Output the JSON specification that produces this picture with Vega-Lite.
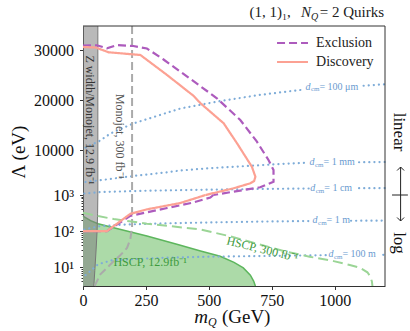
{
"$schema": "https://vega.github.io/schema/vega-lite/v6.json",
"width": 302, "height": 260,
"autosize": {"type": "none"},
"padding": {"left": 83, "top": 26, "right": 25, "bottom": 45},
"background": "white",
"config": {"font": "Liberation Serif", "view": {"stroke": null},
  "axis": {"zindex": 1, "grid": false, "domainColor": "#333", "tickColor": "#333", "labelColor": "#111", "labelFont": "Liberation Serif", "labelFontSize": 16, "titleOpacity": 0},
  "mark": {"font": "Liberation Serif"},
  "text": {"font": "Liberation Serif"}},
"datasets": {
 "curves": [
  {"series":"Exclusion","i":0,"x":0,"y":30860},{"series":"Exclusion","i":1,"x":55,"y":30950},{"series":"Exclusion","i":2,"x":95,"y":30340},{"series":"Exclusion","i":3,"x":135,"y":31000},{"series":"Exclusion","i":4,"x":200,"y":30800},{"series":"Exclusion","i":5,"x":254,"y":30300},{"series":"Exclusion","i":6,"x":320,"y":28100},{"series":"Exclusion","i":7,"x":387,"y":25660},{"series":"Exclusion","i":8,"x":460,"y":23000},{"series":"Exclusion","i":9,"x":532,"y":20340},{"series":"Exclusion","i":10,"x":625,"y":16000},{"series":"Exclusion","i":11,"x":691,"y":11660},{"series":"Exclusion","i":12,"x":737,"y":8000},{"series":"Exclusion","i":13,"x":757,"y":6000},{"series":"Exclusion","i":14,"x":757,"y":3660},{"series":"Exclusion","i":15,"x":704,"y":2540},{"series":"Exclusion","i":16,"x":598,"y":1660},{"series":"Exclusion","i":17,"x":518,"y":1000},{"series":"Exclusion","i":18,"x":506,"y":850},{"series":"Exclusion","i":19,"x":430,"y":600},{"series":"Exclusion","i":20,"x":330,"y":430},{"series":"Exclusion","i":21,"x":254,"y":330},{"series":"Exclusion","i":22,"x":188,"y":265},{"series":"Exclusion","i":23,"x":95,"y":100},{"series":"Exclusion","i":24,"x":0,"y":100},
  {"series":"Discovery","i":0,"x":0,"y":30600},{"series":"Discovery","i":1,"x":50,"y":30500},{"series":"Discovery","i":2,"x":102,"y":29540},{"series":"Discovery","i":3,"x":228,"y":29000},{"series":"Discovery","i":4,"x":334,"y":25000},{"series":"Discovery","i":5,"x":440,"y":20800},{"series":"Discovery","i":6,"x":467,"y":19340},{"series":"Discovery","i":7,"x":559,"y":15340},{"series":"Discovery","i":8,"x":612,"y":11340},{"series":"Discovery","i":9,"x":671,"y":6660},{"series":"Discovery","i":10,"x":685,"y":4660},{"series":"Discovery","i":11,"x":680,"y":3800},{"series":"Discovery","i":12,"x":665,"y":3340},{"series":"Discovery","i":13,"x":598,"y":2340},{"series":"Discovery","i":14,"x":487,"y":1000},{"series":"Discovery","i":15,"x":387,"y":600},{"series":"Discovery","i":16,"x":254,"y":400},{"series":"Discovery","i":17,"x":188,"y":300},{"series":"Discovery","i":18,"x":95,"y":100},{"series":"Discovery","i":19,"x":0,"y":100}
 ],
 "monojet": [
  {"i":0,"x":195,"y":34800},{"i":1,"x":195,"y":1000},{"i":2,"x":195,"y":123},{"i":3,"x":188,"y":60},{"i":4,"x":175,"y":34},{"i":5,"x":150,"y":22},{"i":6,"x":122,"y":14.7},{"i":7,"x":95,"y":9.5},{"i":8,"x":69,"y":6.3},{"i":9,"x":49,"y":3.3},{"i":10,"x":47,"y":3}
 ],
 "zband": [
  {"x":59,"y":34800},{"x":59,"y":1000},{"x":58,"y":300},{"x":56,"y":100},{"x":52,"y":30},{"x":47,"y":8},{"x":43,"y":3}
 ],
 "hscp12": [
  {"x":0,"y":260},{"x":30,"y":195},{"x":60,"y":160},{"x":122,"y":123},{"x":254,"y":73},{"x":380,"y":42},{"x":467,"y":28},{"x":545,"y":20},{"x":600,"y":13.5},{"x":637,"y":9.5},{"x":665,"y":6},{"x":678,"y":4.1},{"x":685,"y":3}
 ],
 "hscp300": [
  {"i":0,"x":0,"y":320},{"i":1,"x":60,"y":260},{"i":2,"x":122,"y":215},{"i":3,"x":254,"y":160},{"i":4,"x":400,"y":125},{"i":5,"x":467,"y":111},{"i":6,"x":598,"y":68},{"i":7,"x":700,"y":43},{"i":8,"x":797,"y":28},{"i":9,"x":900,"y":19.5},{"i":10,"x":996,"y":14.7},{"i":11,"x":1060,"y":11.5},{"i":12,"x":1102,"y":9.5},{"i":13,"x":1130,"y":7.2},{"i":14,"x":1141,"y":5.6},{"i":15,"x":1148,"y":4},{"i":16,"x":1150,"y":3}
 ],
 "dcm": [
  {"seg":"100um_a","i":0,"x":10,"y":10500},{"seg":"100um_a","i":1,"x":65,"y":11800},{"seg":"100um_a","i":2,"x":109,"y":13300},{"seg":"100um_a","i":3,"x":200,"y":15300},{"seg":"100um_a","i":4,"x":387,"y":18300},{"seg":"100um_a","i":5,"x":546,"y":19800},{"seg":"100um_a","i":6,"x":700,"y":21000},{"seg":"100um_a","i":7,"x":880,"y":22100},
  {"seg":"100um_b","i":0,"x":1115,"y":22850},{"seg":"100um_b","i":1,"x":1200,"y":23150},
  {"seg":"1mm_a","i":0,"x":10,"y":3600},{"seg":"1mm_a","i":1,"x":75,"y":4000},{"seg":"1mm_a","i":2,"x":200,"y":4800},{"seg":"1mm_a","i":3,"x":320,"y":5460},{"seg":"1mm_a","i":4,"x":387,"y":5900},{"seg":"1mm_a","i":5,"x":500,"y":6350},{"seg":"1mm_a","i":6,"x":652,"y":6800},{"seg":"1mm_a","i":7,"x":800,"y":7250},{"seg":"1mm_a","i":8,"x":893,"y":7450},
  {"seg":"1mm_b","i":0,"x":1097,"y":7550},{"seg":"1mm_b","i":1,"x":1200,"y":7600},
  {"seg":"1cm_a","i":0,"x":5,"y":1300},{"seg":"1cm_a","i":1,"x":75,"y":1600},{"seg":"1cm_a","i":2,"x":250,"y":1850},{"seg":"1cm_a","i":3,"x":480,"y":2050},{"seg":"1cm_a","i":4,"x":700,"y":2200},{"seg":"1cm_a","i":5,"x":898,"y":2300},
  {"seg":"1cm_b","i":0,"x":1097,"y":2360},{"seg":"1cm_b","i":1,"x":1200,"y":2380},
  {"seg":"1m_a","i":0,"x":5,"y":110},{"seg":"1m_a","i":1,"x":60,"y":135},{"seg":"1m_a","i":2,"x":150,"y":150},{"seg":"1m_a","i":3,"x":300,"y":162},{"seg":"1m_a","i":4,"x":480,"y":172},{"seg":"1m_a","i":5,"x":700,"y":183},{"seg":"1m_a","i":6,"x":905,"y":190},
  {"seg":"1m_b","i":0,"x":1065,"y":193},{"seg":"1m_b","i":1,"x":1200,"y":195},
  {"seg":"100m_a","i":0,"x":10,"y":6},{"seg":"100m_a","i":1,"x":60,"y":12},{"seg":"100m_a","i":2,"x":115,"y":15.5},{"seg":"100m_a","i":3,"x":300,"y":18},{"seg":"100m_a","i":4,"x":506,"y":19.5},{"seg":"100m_a","i":5,"x":750,"y":20.5},{"seg":"100m_a","i":6,"x":970,"y":21.5},
  {"seg":"100m_b","i":0,"x":1193,"y":22},{"seg":"100m_b","i":1,"x":1200,"y":22}
 ],
 "dlabels": [
  {"x":884,"y":22650,"val":"= 100 μm"},{"x":900,"y":7550,"val":"= 1 mm"},{"x":903,"y":2370,"val":"= 1 cm"},{"x":912,"y":200,"val":"= 1 m"},{"x":975,"y":23,"val":"= 100 m"}
 ]
},
"encoding": {"x": {"field": "x", "type": "quantitative", "scale": {"domain": [0, 1200], "nice": false, "zero": false},
  "axis": {"orient": "bottom", "values": [0, 250, 500, 750, 1000], "format": "d", "tickSize": 3.5, "labelPadding": 3, "title": null, "labelFlush": false}}},
"layer": [
 {
  "encoding": {"y": {"field": "y", "type": "quantitative", "scale": {"domain": [1000, 34800], "range": [169, 0], "nice": false, "zero": false},
    "axis": {"orient": "left", "values": [10000, 20000, 30000], "format": "d", "tickSize": 3.5, "labelPadding": 6, "title": null, "labelFlush": false}}},
  "layer": [
   {"data": {"name": "zband"}, "transform": [{"filter": "datum.y >= 1000"}], "mark": {"type": "area", "orient": "horizontal", "color": "#808080", "opacity": 0.55}, "encoding": {"x2": {"datum": 0}}},
   {"data": {"name": "zband"}, "transform": [{"filter": "datum.y >= 1000"}], "mark": {"type": "line", "color": "#777777", "strokeWidth": 1}, "encoding": {"order": {"field": "y", "type": "quantitative"}}},
   {"data": {"name": "dcm"}, "transform": [{"filter": "datum.y >= 1000"}], "mark": {"type": "line", "color": "#7eacd8", "strokeWidth": 2.2, "strokeDash": [0.1, 5], "strokeCap": "round"}, "encoding": {"detail": {"field": "seg"}, "order": {"field": "i", "type": "quantitative"}}},
   {"data": {"name": "monojet"}, "transform": [{"filter": "datum.y >= 1000"}], "mark": {"type": "line", "color": "#aaaaaa", "strokeWidth": 2, "strokeDash": [8, 4]}, "encoding": {"order": {"field": "i", "type": "quantitative"}}},
   {"data": {"name": "curves"}, "transform": [{"filter": "datum.y >= 1000"}], "mark": {"type": "line", "strokeWidth": 2.2},
    "encoding": {"color": {"field": "series", "type": "nominal", "scale": {"domain": ["Exclusion", "Discovery"], "range": ["#ad5bbd", "#fca193"]}, "legend": null},
     "strokeDash": {"field": "series", "type": "nominal", "scale": {"domain": ["Exclusion", "Discovery"], "range": [[8, 4], [1, 0]]}, "legend": null},
     "order": {"field": "i", "type": "quantitative"}}},
   {"data": {"name": "dlabels"}, "transform": [{"filter": "datum.y >= 1000"}], "mark": {"type": "text", "font": "Liberation Serif", "fontStyle": "italic", "fontSize": 10, "align": "left", "baseline": "middle", "color": "#6a9bd0"}, "encoding": {"text": {"value": "d"}}},
   {"data": {"name": "dlabels"}, "transform": [{"filter": "datum.y >= 1000"}], "mark": {"type": "text", "font": "Liberation Serif", "fontSize": 7, "align": "left", "baseline": "middle", "dx": 5.5, "dy": 2.5, "color": "#6a9bd0"}, "encoding": {"text": {"value": "cm"}}},
   {"data": {"name": "dlabels"}, "transform": [{"filter": "datum.y >= 1000"}], "mark": {"type": "text", "font": "Liberation Serif", "fontSize": 10, "align": "left", "baseline": "middle", "dx": 14, "color": "#6a9bd0"}, "encoding": {"text": {"field": "val"}}},
   {"data": {"values": [{"series": "Exclusion", "x": 771, "x2": 894, "y": 31400}, {"series": "Discovery", "x": 771, "x2": 894, "y": 27600}]}, "mark": {"type": "rule", "strokeWidth": 2.2},
    "encoding": {"x2": {"field": "x2"}, "color": {"field": "series", "type": "nominal", "legend": null}, "strokeDash": {"field": "series", "type": "nominal", "legend": null}}},
   {"data": {"values": [{"x": 926, "y": 31400, "text": "Exclusion"}, {"x": 926, "y": 27600, "text": "Discovery"}]}, "mark": {"type": "text", "font": "Liberation Serif", "fontSize": 14, "align": "left", "baseline": "middle", "color": "#222"}, "encoding": {"text": {"field": "text"}}},
   {"data": {"values": [{"x": 0, "x2": 1200, "y": 34800}]}, "mark": {"type": "rule", "color": "#333", "strokeWidth": 1}, "encoding": {"x2": {"field": "x2"}}},
   {"data": {"values": [{"x": 1200, "y": 1000, "y2": 34800}]}, "mark": {"type": "rule", "color": "#333", "strokeWidth": 1}, "encoding": {"y2": {"field": "y2"}}},
   {"data": {"values": [{"x": 826, "y": 36600, "text": "(1, 1)₁,"}, {"x": 1196, "y": 36600, "text": "= 2 Quirks"}]}, "mark": {"type": "text", "font": "Liberation Serif", "fontSize": 15, "align": "right", "baseline": "alphabetic", "color": "#222"}, "encoding": {"text": {"field": "text"}}},
   {"data": {"values": [{"x": 906, "y": 36600, "text": "N"}]}, "mark": {"type": "text", "font": "Liberation Serif", "fontSize": 15, "fontStyle": "italic", "align": "right", "baseline": "alphabetic", "color": "#222"}, "encoding": {"text": {"field": "text"}}},
   {"data": {"values": [{"x": 906, "y": 36600, "text": "Q"}]}, "mark": {"type": "text", "font": "Liberation Serif", "fontSize": 10, "fontStyle": "italic", "align": "left", "baseline": "alphabetic", "dy": 3, "color": "#222"}, "encoding": {"text": {"field": "text"}}},
   {"data": {"values": [{"x": 28, "y": 16000, "text": "Z width/Monojet, 12.9 fb⁻¹"}]}, "mark": {"type": "text", "font": "Liberation Serif", "fontSize": 12, "angle": 90, "align": "center", "baseline": "middle", "color": "#333"}, "encoding": {"text": {"field": "text"}}},
   {"data": {"values": [{"x": 147, "y": 12700, "text": "Monojet, 300 fb⁻¹"}]}, "mark": {"type": "text", "font": "Liberation Serif", "fontSize": 12, "angle": 90, "align": "center", "baseline": "middle", "color": "#555"}, "encoding": {"text": {"field": "text"}}},
   {"data": {"values": [{"x": -254, "y": 9600, "text": "Λ (eV)"}]}, "mark": {"type": "text", "font": "Liberation Serif", "fontSize": 19, "angle": 270, "align": "center", "baseline": "middle", "color": "#111"}, "encoding": {"text": {"field": "text"}}},
   {"data": {"values": [{"x": 1256, "y": 13600, "text": "linear"}]}, "mark": {"type": "text", "font": "Liberation Serif", "fontSize": 17, "angle": 90, "align": "center", "baseline": "middle", "color": "#111"}, "encoding": {"text": {"field": "text"}}},
   {"data": {"values": [{"x": 1262, "y": 1000, "y2": 6600}]}, "mark": {"type": "rule", "color": "#222", "strokeWidth": 1}, "encoding": {"y2": {"field": "y2"}}},
   {"data": {"values": [{"x": 1228, "x2": 1291, "y": 1000}]}, "mark": {"type": "rule", "color": "#222", "strokeWidth": 1}, "encoding": {"x2": {"field": "x2"}}},
   {"data": {"values": [{"x": 1262, "y": 6600}]}, "mark": {"type": "point", "shape": "M-1,1L0,0L1,1", "size": 49, "filled": false, "color": "#222", "strokeWidth": 1, "opacity": 1}}
  ]
 },
 {
  "encoding": {"y": {"field": "y", "type": "quantitative", "scale": {"type": "log", "domain": [3, 1000], "range": [260, 169], "nice": false},
    "axis": {"orient": "left", "values": [10, 100, 1000], "labelExpr": "datum.value == 10 ? '10¹' : datum.value == 100 ? '10²' : '10³'", "tickSize": 3.5, "labelPadding": 6, "title": null, "labelFlush": false}}},
  "layer": [
   {"layer": [
    {"data": {"name": "hscp12"}, "mark": {"type": "area", "color": "#acdaa8"}, "encoding": {"y2": {"datum": 3}}},
    {"data": {"name": "hscp12"}, "mark": {"type": "line", "color": "#5db65d", "strokeWidth": 1.5}},
    {"data": {"name": "zband"}, "transform": [{"filter": "datum.y <= 1000"}], "mark": {"type": "area", "orient": "horizontal", "color": "#808080", "opacity": 0.55}, "encoding": {"x2": {"datum": 0}}},
    {"data": {"name": "zband"}, "transform": [{"filter": "datum.y <= 1000"}], "mark": {"type": "line", "color": "#777777", "strokeWidth": 1}, "encoding": {"order": {"field": "y", "type": "quantitative"}}},
    {"data": {"name": "dcm"}, "transform": [{"filter": "datum.y <= 1000"}], "mark": {"type": "line", "color": "#7eacd8", "strokeWidth": 2.2, "strokeDash": [0.1, 5], "strokeCap": "round"}, "encoding": {"detail": {"field": "seg"}, "order": {"field": "i", "type": "quantitative"}}},
    {"data": {"name": "monojet"}, "transform": [{"filter": "datum.y <= 1000"}], "mark": {"type": "line", "color": "#aaaaaa", "strokeWidth": 2, "strokeDash": [8, 4]}, "encoding": {"order": {"field": "i", "type": "quantitative"}}},
    {"data": {"name": "hscp300"}, "mark": {"type": "line", "color": "#9bd596", "strokeWidth": 2, "strokeDash": [10, 5]}, "encoding": {"order": {"field": "i", "type": "quantitative"}}},
    {"data": {"name": "curves"}, "transform": [{"filter": "datum.y <= 1000"}], "mark": {"type": "line", "strokeWidth": 2.2},
     "encoding": {"color": {"field": "series", "type": "nominal", "legend": null}, "strokeDash": {"field": "series", "type": "nominal", "legend": null}, "order": {"field": "i", "type": "quantitative"}}},
    {"data": {"name": "dlabels"}, "transform": [{"filter": "datum.y < 1000"}], "mark": {"type": "text", "font": "Liberation Serif", "fontStyle": "italic", "fontSize": 10, "align": "left", "baseline": "middle", "color": "#6a9bd0"}, "encoding": {"text": {"value": "d"}}},
    {"data": {"name": "dlabels"}, "transform": [{"filter": "datum.y < 1000"}], "mark": {"type": "text", "font": "Liberation Serif", "fontSize": 7, "align": "left", "baseline": "middle", "dx": 5.5, "dy": 2.5, "color": "#6a9bd0"}, "encoding": {"text": {"value": "cm"}}},
    {"data": {"name": "dlabels"}, "transform": [{"filter": "datum.y < 1000"}], "mark": {"type": "text", "font": "Liberation Serif", "fontSize": 10, "align": "left", "baseline": "middle", "dx": 14, "color": "#6a9bd0"}, "encoding": {"text": {"field": "val"}}},
    {"data": {"values": [{"x": 121, "y": 13.5, "text": "HSCP, 12.9fb⁻¹"}]}, "mark": {"type": "text", "font": "Liberation Serif", "fontSize": 12, "align": "left", "baseline": "middle", "color": "#3e9a3e"}, "encoding": {"text": {"field": "text"}}},
    {"data": {"values": [{"x": 713, "y": 31.6, "text": "HSCP, 300 fb⁻¹"}]}, "mark": {"type": "text", "font": "Liberation Serif", "fontSize": 12, "angle": 14, "align": "center", "baseline": "middle", "color": "#3e9a3e"}, "encoding": {"text": {"field": "text"}}},
    {"data": {"values": [{"x": 1200, "y": 3, "y2": 1000}]}, "mark": {"type": "rule", "color": "#333", "strokeWidth": 1}, "encoding": {"y2": {"field": "y2"}}},
    {"data": {"values": [{"x": 1256, "y": 46.7, "text": "log"}]}, "mark": {"type": "text", "font": "Liberation Serif", "fontSize": 17, "angle": 90, "align": "center", "baseline": "middle", "color": "#111"}, "encoding": {"text": {"field": "text"}}},
    {"data": {"values": [{"x": 1262, "y": 190, "y2": 1000}]}, "mark": {"type": "rule", "color": "#222", "strokeWidth": 1}, "encoding": {"y2": {"field": "y2"}}},
    {"data": {"values": [{"x": 1262, "y": 190}]}, "mark": {"type": "point", "shape": "M-1,-1L0,0L1,-1", "size": 49, "filled": false, "color": "#222", "strokeWidth": 1, "opacity": 1}},
    {"data": {"values": [{"x": 497, "y": 0.285, "text": "m"}]}, "mark": {"type": "text", "font": "Liberation Serif", "fontSize": 19, "fontStyle": "italic", "align": "right", "baseline": "alphabetic", "color": "#111"}, "encoding": {"text": {"field": "text"}}},
    {"data": {"values": [{"x": 497, "y": 0.285, "text": "Q"}]}, "mark": {"type": "text", "font": "Liberation Serif", "fontSize": 12, "fontStyle": "italic", "align": "left", "baseline": "alphabetic", "dy": 3, "color": "#111"}, "encoding": {"text": {"field": "text"}}},
    {"data": {"values": [{"x": 552, "y": 0.285, "text": "(GeV)"}]}, "mark": {"type": "text", "font": "Liberation Serif", "fontSize": 19, "align": "left", "baseline": "alphabetic", "color": "#111"}, "encoding": {"text": {"field": "text"}}}
   ]},
   {"data": {"values": [{"x": 0, "y": 10}]}, "mark": {"type": "point", "opacity": 0},
    "encoding": {"y": {"field": "y", "type": "quantitative", "scale": {"type": "log", "domain": [3, 1000], "range": [260, 169], "nice": false},
     "axis": {"orient": "left", "values": [4,5,6,7,8,9,20,30,40,50,60,70,80,90,200,300,400,500,600,700,800,900], "tickSize": 2, "labels": false, "domain": false, "title": null}}}}
  ],
  "resolve": {"axis": {"y": "independent"}}
 }
],
"resolve": {"scale": {"y": "independent"}}
}
